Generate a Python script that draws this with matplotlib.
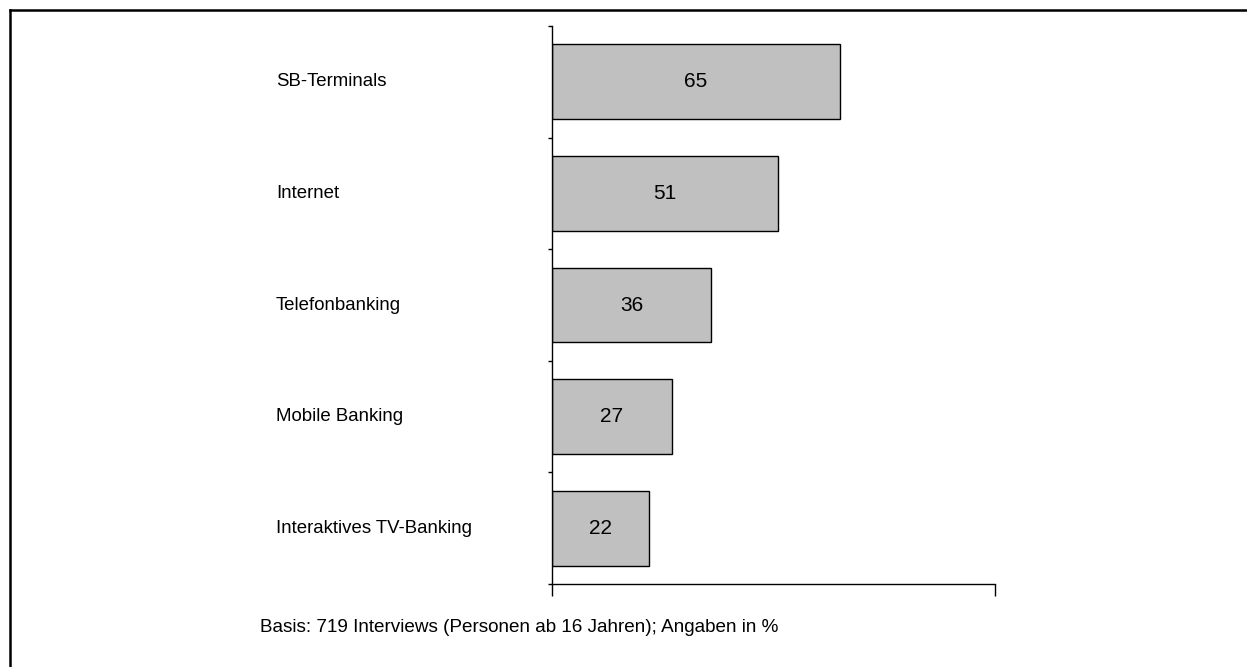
import matplotlib
matplotlib.use("Agg")
import matplotlib.pyplot as plt
from matplotlib.transforms import blended_transform_factory
from matplotlib.lines import Line2D

# ==========================
# Data
# ==========================
categories = ["SB-Terminals", "Internet", "Telefonbanking", "Mobile Banking",
              "Interaktives TV-Banking"]
values = [65, 51, 36, 27, 22]
footnote = "Basis: 719 Interviews (Personen ab 16 Jahren); Angaben in %"

plt.rcParams["font.family"] = ["Liberation Sans", "DejaVu Sans"]

W, H = 1247, 667
fig = plt.figure(figsize=(W / 100, H / 100), dpi=100)
ax = fig.add_axes([552 / W, 1 - 584 / H, (995 - 552) / W, (584 - 26) / H])

n = len(categories)
pos = list(range(n))
ax.barh(pos, values, height=0.672, color="#c0c0c0", edgecolor="black", linewidth=1.0)
ax.set_ylim(n - 0.5, -0.5)
ax.set_xlim(0, 100)

for p, v in zip(pos, values):
    ax.text(v / 2, p, str(v), ha="center", va="center", fontsize=15)

# category labels left aligned in figure space
trans = blended_transform_factory(fig.transFigure, ax.transData)
for p, c in zip(pos, categories):
    ax.text(276 / W, p, c, transform=trans, ha="left", va="center", fontsize=13.4)

# axes styling
for s in ["top", "right"]:
    ax.spines[s].set_visible(False)
ax.spines["left"].set_linewidth(1.0)
ax.spines["bottom"].set_linewidth(1.0)
ax.set_yticks([i - 0.5 for i in range(n + 1)])
ax.set_yticklabels([])
ax.tick_params(axis="y", direction="out", length=3, width=1.0)
ax.set_xticks([0, 100])
ax.set_xticklabels([])
ax.tick_params(axis="x", direction="out", length=8.5, width=1.0)

fig.text(260 / W, 1 - 627 / H, footnote, ha="left", va="center", fontsize=13.6)

# frame on left and top
fig.add_artist(Line2D([9.5 / W, 9.5 / W], [0, 1 - 9.5 / H], transform=fig.transFigure,
                      color="black", linewidth=1.8))
fig.add_artist(Line2D([9.5 / W, 1], [1 - 9.5 / H, 1 - 9.5 / H], transform=fig.transFigure,
                      color="black", linewidth=1.8))

plt.savefig("out.png", dpi=100)
